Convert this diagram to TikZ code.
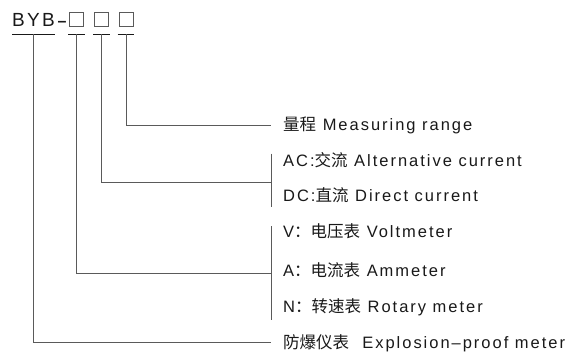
\documentclass[tikz,border=0pt]{standalone}
\usepackage{fontspec}
\setmainfont{Liberation Sans}[LetterSpace=12]
\newfontfamily\cjk{Noto Sans CJK SC}
\newcommand{\zh}[1]{{\cjk #1}}
\definecolor{inkgray}{RGB}{25,25,25}
\definecolor{wiregray}{RGB}{90,90,90}

\begin{document}
\begin{tikzpicture}[x=1bp, y=-1bp,
        label/.style={anchor=west, inner xsep=12bp, inner ysep=0pt, text height=11.8bp, text depth=0pt, text=inkgray, font=\fontsize{16.5bp}{18bp}\selectfont},
        slot/.style={draw=wiregray, line width=0.8bp, minimum size=14bp, inner sep=0pt},
        wire/.style={wiregray, line width=0.9bp},
        rule/.style={inkgray, line width=0.9bp}]
        \useasboundingbox (0,0) rectangle (574,354);

        \node[anchor=base west, inner sep=0pt, text=inkgray, font=\fontsize{19bp}{20bp}\selectfont] (byb) at (12,26.2) {BYB};
        \node[anchor=base west, inner sep=0pt, text=inkgray, font=\fontsize{16bp}{20bp}\selectfont\bfseries] (dash) at (57.5,26) {–};

        \node[slot] (s1) at (76.5,19.7) {};
        \node[slot] (s2) at (101.5,19.7) {};
        \node[slot] (s3) at (126,19.7) {};

        \draw[rule] ([yshift=-7.8bp]byb.south west) -- ([yshift=-7.8bp]byb.south east);
        \foreach \s in {s1,s2,s3}
            \draw[rule] ([xshift=-1bp,yshift=-7.3bp]\s.south west) -- ([xshift=1bp,yshift=-7.3bp]\s.south east);

        \coordinate (u0) at ([yshift=-7.8bp]byb.south);
        \coordinate (u1) at ([yshift=-7.3bp]s1.south);
        \coordinate (u2) at ([yshift=-7.3bp]s2.south);
        \coordinate (u3) at ([yshift=-7.3bp]s3.south);

        \node[label] (rng) at (271,125) {\zh{量程} Measuring range};
        \node[label] (ac) at (271,160.5) {AC:\zh{交流} Alternative current};
        \node[label] (dc) at (271,195.5) {DC:\zh{直流} Direct current};
        \node[label] (volt) at (271,232) {V\zh{：电压表} Voltmeter};
        \node[label] (amp) at (271,270.5) {A\zh{：电流表} Ammeter};
        \node[label] (rot) at (271,307) {N\zh{：转速表} Rotary meter};
        \node[label] (expl) at (271,342.5) {\zh{防爆仪表}\ \ Explosion–proof meter};

        \draw[wire] ([yshift=7bp]ac.west) -- ([yshift=-11bp]dc.west);
        \draw[wire] ([yshift=6bp]volt.west) -- ([yshift=-13bp]rot.west);
        \coordinate (acdc) at (271,182);
        \coordinate (vamp) at (271,273);

        \draw[wire] (u3) |- (rng.west);
        \draw[wire] (u2) |- (acdc);
        \draw[wire] (u1) |- (vamp);
        \draw[wire] (u0) |- (expl.west);
    \end{tikzpicture}
\end{document}
